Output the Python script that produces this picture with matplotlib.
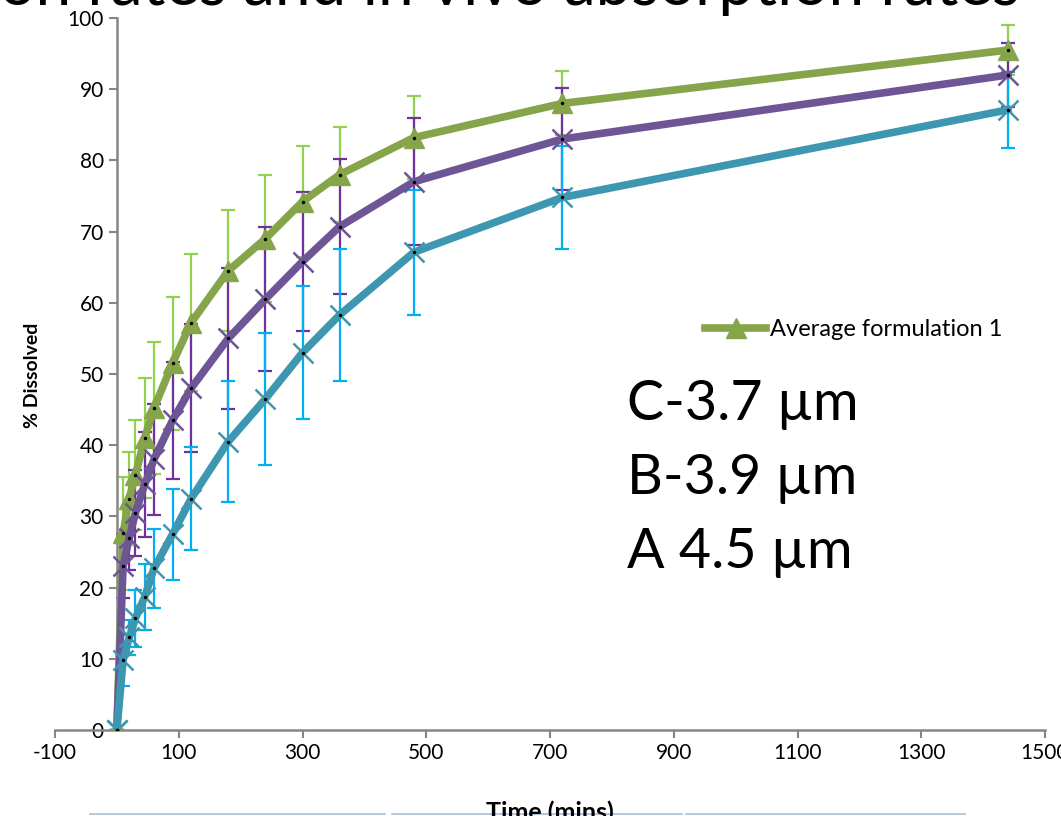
import matplotlib
matplotlib.use("Agg")
import matplotlib.pyplot as plt
from matplotlib.lines import Line2D

plt.rcParams['font.family'] = ['Lato', 'DejaVu Sans']
plt.rcParams['axes.unicode_minus'] = False

# sampling times (mins)
times = [0, 10, 20, 30, 45, 60, 90, 120, 180, 240, 300, 360, 480, 720, 1440]

# formulation 1 (green, triangles)
green = [0, 27.6, 32.5, 35.8, 41.0, 45.2, 51.5, 57.2, 64.5, 69.0, 74.2, 78.0, 83.2, 88.0, 95.5]
green_err = [0, 7.9, 6.5, 7.7, 8.4, 9.3, 9.3, 9.6, 8.5, 8.9, 7.8, 6.7, 5.8, 4.5, 3.5]

# purple series
purple = [0, 23.0, 27.0, 30.5, 34.5, 38.0, 43.5, 48.0, 55.0, 60.5, 65.8, 70.7, 77.0, 83.0, 92.0]
purple_err = [0, 4.5, 4.5, 6.0, 7.4, 7.8, 8.2, 9.0, 9.9, 10.1, 9.7, 9.5, 8.9, 7.2, 4.5]

# teal series
teal = [0, 9.8, 13.0, 15.7, 18.7, 22.7, 27.5, 32.5, 40.5, 46.5, 53.0, 58.3, 67.1, 74.8, 87.1]
teal_err = [0, 3.6, 2.5, 4.0, 4.6, 5.6, 6.4, 7.2, 8.5, 9.3, 9.3, 9.3, 8.8, 7.2, 5.3]

xticks = [-100, 100, 300, 500, 700, 900, 1100, 1300, 1500]
yticks = [0, 10, 20, 30, 40, 50, 60, 70, 80, 90, 100]
notes = ["C-3.7 \u00b5m", "B-3.9 \u00b5m", "A 4.5 \u00b5m"]

fig = plt.figure(figsize=(10.61, 8.16), dpi=100)
ax = fig.add_axes([55 / 1061, 1 - 730 / 816, (1045 - 55) / 1061, (730 - 18) / 816])

# error bars first, lines on top
ax.errorbar(times, green, yerr=green_err, fmt='none', ecolor='#92D050', elinewidth=1.6, capsize=5, capthick=1.6, zorder=2)
ax.errorbar(times, purple, yerr=purple_err, fmt='none', ecolor='#7030A0', elinewidth=1.6, capsize=5, capthick=1.6, zorder=2)
ax.errorbar(times, teal, yerr=teal_err, fmt='none', ecolor='#00B0F0', elinewidth=1.6, capsize=5, capthick=1.6, zorder=2)

ax.plot(times, green, color='#86A44A', lw=5.5, marker='^', markersize=14, label='Average formulation 1', zorder=3)
ax.plot(times, purple, color='#6E5596', lw=5.5, marker='x', markersize=14, markeredgewidth=1.8, label='_nolegend_', zorder=4)
ax.plot(times, teal, color='#3E97B0', lw=5.5, marker='x', markersize=14, markeredgewidth=1.8, label='_nolegend_', zorder=5)
for ys in (green, purple, teal):
    ax.plot(times, ys, ls='none', marker='o', markersize=1.5, color='black', zorder=6)

ax.set_xlim(-100, 1500)
ax.set_ylim(0, 100)
ax.set_xticks(xticks)
ax.set_yticks(yticks)
ax.tick_params(axis='both', labelsize=15, colors='#868686', labelcolor='black', length=6, width=1.5, direction='out')

ax.spines['left'].set_position(('data', 0))
ax.spines['top'].set_visible(False)
ax.spines['right'].set_visible(False)
for s in ('left', 'bottom'):
    ax.spines[s].set_color('#868686')
    ax.spines[s].set_linewidth(1.8)

fig.text(33 / 1061, 1 - 375 / 816, "% Dissolved", rotation=90, fontsize=14, fontweight='bold', ha='center', va='center')
fig.text(550 / 1061, 1 - 812 / 816, "Time (mins)", fontsize=18, fontweight='bold', ha='center', va='center')
fig.text(1020 / 1061, 1 - 5 / 816, "In vitro dissolution rates and in vivo absorption rates", fontsize=46, ha='right', va='baseline')

fig.legend(loc='center left', bbox_to_anchor=(705 / 1061, 1 - 330 / 816), frameon=False, fontsize=17,
           handlelength=2.6, handletextpad=0.15, borderpad=0, borderaxespad=0)

for i, t in enumerate(notes):
    fig.text(627 / 1061, 1 - (405 + 74 * i) / 816, t, fontsize=40, ha='left', va='center')

# faint table borders at the bottom edge
for x0, x1 in [(90, 385), (392, 682), (686, 965)]:
    fig.add_artist(Line2D([x0 / 1061, x1 / 1061], [1 - 814 / 816] * 2, color='#A9BCD6', lw=1.2))

fig.savefig("out.png", dpi=100)
